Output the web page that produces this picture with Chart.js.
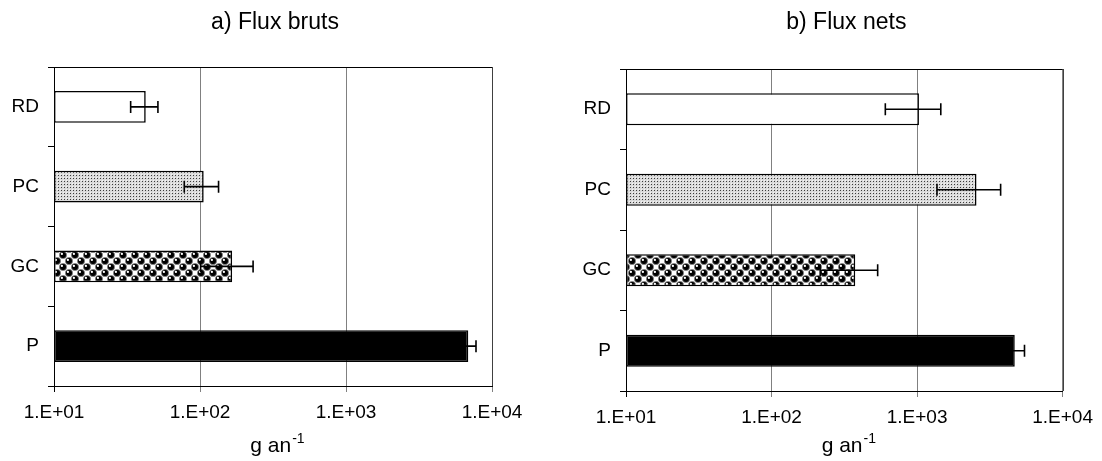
<!DOCTYPE html>
<html>
<head>
<meta charset="utf-8">
<script src="https://cdn.jsdelivr.net/npm/chart.js@4.4.1/dist/chart.umd.min.js"></script>
<style>
  body { margin: 0; background: #fff; }
  canvas { position: absolute; top: 0; }
  #c1 { left: 0; }
  #c2 { left: 551px; }
</style>
</head>
<body>
<canvas id="c1" width="551" height="461"></canvas>
<canvas id="c2" width="551" height="461"></canvas>
<script>
  const categories = ["RD", "PC", "GC", "P"];
  const brutsValues = [42.5, 106, 166, 6880];
  const brutsErrors = [9, 28, 65, 890];
  const netsValues = [1030, 2560, 376, 4690];
  const netsErrors = [425, 1190, 160, 780];
  const tickValues = [10, 100, 1000, 10000];
  const tickLabels = ["1.E+01", "1.E+02", "1.E+03", "1.E+04"];
  const FONT = "'Liberation Sans', Arial, sans-serif";

  // fill patterns like the old excel ones
  function dotPattern(ctx) {
    const c = document.createElement("canvas");
    c.width = 3; c.height = 3;
    const g = c.getContext("2d");
    g.fillStyle = "#dadada";
    g.fillRect(0, 0, 3, 3);
    g.fillStyle = "#f4f4f4";
    g.fillRect(0, 0, 1, 1);
    g.fillStyle = "#3c3c3c";
    g.fillRect(1, 1, 1, 1);
    return ctx.createPattern(c, "repeat");
  }

  function spherePattern(ctx) {
    const c = document.createElement("canvas");
    c.width = 12; c.height = 12;
    const g = c.getContext("2d");
    g.fillStyle = "#fff";
    g.fillRect(0, 0, 12, 12);
    [[3, 3], [9, 9]].forEach(function (p) {
      for (let dx = -1; dx <= 1; dx++) {
        for (let dy = -1; dy <= 1; dy++) {
          const cx = p[0] + dx * 12, cy = p[1] + dy * 12;
          g.beginPath();
          g.arc(cx, cy, 3.6, 0, Math.PI * 2);
          g.fillStyle = "#000";
          g.fill();
          g.lineWidth = 0.7;
          g.strokeStyle = "#888";
          g.stroke();
          g.beginPath();
          g.arc(cx - 1.1, cy - 1.1, 1.1, 0, Math.PI * 2);
          g.fillStyle = "#fff";
          g.fill();
        }
      }
    });
    return ctx.createPattern(c, "repeat");
  }

  const extras = {
    id: "extras",
    afterDatasetsDraw(chart) {
      const opts = chart.options.plugins.extras;
      const ctx = chart.ctx;
      const xs = chart.scales.x;
      const meta = chart.getDatasetMeta(0);
      ctx.save();
      ctx.strokeStyle = "#000";
      ctx.lineWidth = 1.6;
      meta.data.forEach(function (bar, i) {
        const v = opts.values[i], e = opts.errors[i];
        const x1 = xs.getPixelForValue(v - e);
        const x2 = xs.getPixelForValue(v + e);
        const y = bar.y;
        ctx.beginPath();
        ctx.moveTo(x1, y); ctx.lineTo(x2, y);
        ctx.moveTo(x1, y - 6); ctx.lineTo(x1, y + 6);
        ctx.moveTo(x2, y - 6); ctx.lineTo(x2, y + 6);
        ctx.stroke();
      });
      ctx.restore();
    },
    afterDraw(chart) {
      const opts = chart.options.plugins.extras;
      const ctx = chart.ctx;
      const a = chart.chartArea;
      ctx.save();
      // top and right border of the plot area
      ctx.lineWidth = 1;
      ctx.strokeStyle = "#000";
      ctx.beginPath();
      ctx.moveTo(a.left, Math.round(a.top) + 0.5);
      ctx.lineTo(a.right, Math.round(a.top) + 0.5);
      ctx.stroke();
      ctx.strokeStyle = "#404040";
      ctx.beginPath();
      ctx.moveTo(Math.round(a.right) + 0.5, a.top);
      ctx.lineTo(Math.round(a.right) + 0.5, a.bottom);
      ctx.stroke();

      const cx = (a.left + a.right) / 2;
      ctx.fillStyle = "#000";
      ctx.textBaseline = "alphabetic";
      ctx.textAlign = "center";
      ctx.font = "23px " + FONT;
      ctx.fillText(opts.title, cx + 2, 29);

      // axis title with superscript
      ctx.textAlign = "left";
      ctx.font = "21px " + FONT;
      const main = "g an";
      const wMain = ctx.measureText(main).width;
      ctx.font = "14px " + FONT;
      const wSup = ctx.measureText("-1").width;
      const x0 = cx + 4 - (wMain + wSup) / 2;
      ctx.font = "21px " + FONT;
      ctx.fillText(main, x0, 452);
      ctx.font = "14px " + FONT;
      ctx.fillText("-1", x0 + wMain + 1, 443);
      ctx.restore();
    }
  };

  function makeChart(id, title, values, errors, box) {
    const canvas = document.getElementById(id);
    const ctx = canvas.getContext("2d");
    const fills = ["#fff", dotPattern(ctx), spherePattern(ctx), "#000"];

    return new Chart(canvas, {
      type: "bar",
      data: {
        labels: categories,
        datasets: [{
          data: values,
          backgroundColor: fills,
          borderColor: "#000",
          borderWidth: 1.6,
          borderSkipped: false,
          barPercentage: 0.4,
          categoryPercentage: 1
        }]
      },
      options: {
        indexAxis: "y",
        responsive: false,
        animation: false,
        layout: { padding: { top: box.top, right: box.right, left: 0, bottom: 0 } },
        plugins: {
          legend: { display: false },
          tooltip: { enabled: false },
          extras: { title: title, values: values, errors: errors }
        },
        scales: {
          x: {
            type: "logarithmic",
            min: 10,
            max: 10000,
            afterBuildTicks: function (scale) {
              scale.ticks = tickValues.map(function (v) { return { value: v, major: true }; });
            },
            afterFit: function (scale) { scale.height = box.xHeight; },
            ticks: {
              autoSkip: false,
              maxRotation: 0,
              padding: 9,
              color: "#000",
              font: { family: FONT, size: 19 },
              callback: function (v, i) { return tickLabels[i]; }
            },
            grid: {
              color: function (c) { return c.tick && c.tick.value === 10 ? "#000" : "#808080"; },
              tickLength: 6,
              lineWidth: 1
            },
            border: { color: "#000", width: 1 }
          },
          y: {
            afterFit: function (scale) { scale.width = box.yWidth; },
            ticks: {
              padding: 9,
              color: "#000",
              font: { family: FONT, size: 19 }
            },
            grid: {
              offset: true,
              drawOnChartArea: false,
              tickLength: 6,
              color: "#000"
            },
            border: { color: "#000", width: 1 }
          }
        }
      },
      plugins: [extras]
    });
  }

  makeChart("c1", "a) Flux bruts", brutsValues, brutsErrors,
    { top: 67, right: 59, yWidth: 54, xHeight: 75 });
  makeChart("c2", "b) Flux nets", netsValues, netsErrors,
    { top: 69, right: 38, yWidth: 75, xHeight: 70 });
</script>
</body>
</html>
